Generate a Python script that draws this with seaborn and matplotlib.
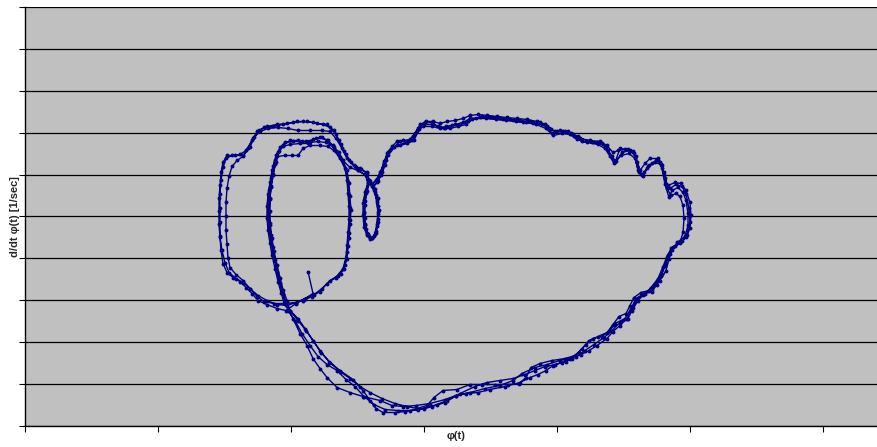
import matplotlib
matplotlib.use("Agg")
import matplotlib.pyplot as plt
import seaborn as sns
import pandas as pd
import numpy as np

# phase trajectory (arbitrary units: phi, d/dt phi)
phi_start = [283, 288]
dphi_start = [-55, -77]

phi_outer1 = [280,271,262,252,242,233,225,218,211,204,200,197,195,194,194,194,195,196,198,202,210,218,225,229,234,242,252,262,272,282,292,302,309,314,319,324,330]
dphi_outer1 = [-82,-86,-89,-88,-84,-79,-72,-66,-62,-56,-46,-34,-21,-8,5,18,31,44,54,61,61,61,69,79,86,90,92,93,95,95,93,92,86,76,65,56,50]

phi_small1 = [335,342,344,341,339,339,340,342,346,350,352,353,352,349,346,351,355,359,362,367]
dphi_small1 = [48,44,36,26,16,4,-8,-17,-22,-18,-8,4,16,26,32,36,44,53,63,70]

phi_big1 = [372,378,385,390,395,401,408,415,422,430,438,445,453,462,472,482,492,502,512,520,
            526,532,540,548,555,565,575,582,588,593,600,608,612,615,620,625,633,637,640,643,
            650,656,661,665,666,665,661,655,648,643,640,636,631,624,616,609,605,601,594,588,
            582,573,564,557,550,540,527,515,506,501,494,483,470,457,445,432,418,409,402,392,
            382,370,357,345,335,325,315,305,296,288,280,273,265]
dphi_big1 = [75,76,77,83,92,95,95,93,95,96,98,101,102,101,100,99,98,97,95,92,
             87,85,85,82,78,76,75,71,64,66,67,65,54,46,53,58,58,51,38,31,
             34,33,26,14,1,-12,-21,-27,-31,-39,-49,-59,-67,-74,-76,-81,-89,-97,-100,-108,
             -116,-120,-124,-132,-139,-142,-144,-147,-151,-161,-167,-168,-168,-168,-168,-173,-174,-181,-189,-192,
             -190,-187,-182,-176,-170,-162,-155,-146,-136,-124,-112,-102,-94]

phi_left1 = [260,257,254,251,248,246,244,243,243,244,246,248,251,255,260,268,277,285,293,301,308,313,317]
dphi_left1 = [-84,-74,-62,-49,-36,-24,-12,1,13,26,38,50,61,69,74,75,75,74,75,74,70,64,56]

phi_right1 = [321,323,324,325,325,324,323,322,319,313,305,297,289,280]
dphi_right1 = [46,34,21,8,-4,-17,-30,-42,-52,-59,-64,-72,-78,-82]

phi_outer2 = [271,261,252,242,233,227,221,215,208,202,198,196,195,195,195,195,196,198,201,207,215,221,227,232,239,248,258,268,278,288,298,305,311,316,321,326,331]
dphi_outer2 = [-87,-94,-92,-88,-84,-77,-71,-65,-61,-56,-47,-34,-20,-6,8,22,36,49,58,61,62,66,76,85,89,90,92,94,95,94,92,89,82,72,62,54,49]

phi_small2 = [333,340,343,340,338,338,339,342,345,349,352,353,352,350,347,352,356,360,363,369]
dphi_small2 = [46,42,34,24,13,1,-11,-19,-23,-20,-10,2,14,24,30,34,41,51,61,69]

phi_big2 = [375,383,388,393,399,408,415,421,430,438,445,455,465,475,485,495,505,515,522,527,
            535,543,549,557,567,577,583,590,595,603,609,613,617,622,627,633,637,640,644,647,
            653,658,661,663,663,660,652,647,644,641,635,627,619,611,606,600,590,585,577,568,
            561,554,545,535,522,510,497,488,475,460,445,431,420,405,391,378,367,355,338,325,
            312,302,295,288,282,275,268]
dphi_big2 = [75,75,80,88,92,92,89,90,92,94,98,99,99,98,97,96,95,94,90,83,
             86,85,80,75,74,73,66,54,68,67,63,46,41,48,53,56,48,32,19,26,
             29,24,16,3,-9,-20,-26,-34,-42,-54,-64,-73,-77,-82,-92,-102,-107,-114,-120,-122,
             -128,-136,-142,-144,-148,-151,-157,-164,-169,-172,-176,-179,-183,-187,-189,-190,-189,-184,-180,-176,
             -171,-161,-152,-142,-129,-117,-102]

phi_left2 = [259,256,253,250,247,245,243,242,242,243,245,247,250,253,258,265,275,283,291,297,303,309,315]
dphi_left2 = [-86,-76,-65,-52,-39,-27,-14,-2,10,22,34,46,56,64,70,72,73,73,78,79,76,69,59]

phi_small3 = [325,333,341,343,341,340,340,341,344,347,351,353,353,351,348,353,357,361,365,372]
dphi_small3 = [49,46,41,33,23,11,-2,-13,-20,-22,-15,-3,10,21,29,35,44,56,66,71]

phi_big3 = [381,387,392,398,407,415,420,427,435,443,451,461,471,481,491,501,511,521,528,537,
            545,552,562,573,580,585,589,596,604,610,614,618,623,630,636,639,642,646,651,655,
            658,659,658,655,646,642,638,633,626,620,613,607,603,595,587,579,569,560,551,541,
            530,520,510,500,488,475,462,450,435,420,407,393,380,370,358,351,345,338,328,315,
            304,295,288,281,273,265]
dphi_big3 = [74,76,85,90,90,88,88,91,92,95,98,98,97,96,95,94,92,88,81,83,
             82,77,74,72,68,60,53,61,63,58,44,40,50,54,52,41,28,21,23,20,
             11,-2,-16,-26,-32,-40,-50,-62,-71,-77,-84,-94,-102,-106,-114,-121,-128,-134,-140,-145,
             -148,-150,-154,-158,-162,-164,-166,-170,-177,-186,-190,-193,-195,-196,-196,-192,-184,-174,-163,-154,
             -145,-134,-124,-114,-104,-94]

phi_left3 = [261,258,255,252,250,248,246,245,245,245,246,248,250,252,260,267,273,278,285,295,303,309,315]
dphi_left3 = [-87,-77,-66,-55,-43,-31,-19,-7,5,17,29,41,52,60,61,61,61,68,71,71,70,66,58]

phi_right2 = [320,322,323,324,324,323,322,321,318,311,302,295,287,278]
dphi_right2 = [48,36,23,10,-3,-16,-29,-41,-52,-61,-67,-75,-80,-84]

phi_outer3 = [271,260,249,239,232,225,218,211,205,203,202,201,201,201,202,204,207,212,218,223,228,235,243,253,263,273,285,297,305,311,317,322,329]
dphi_outer3 = [-86,-87,-87,-85,-80,-72,-64,-58,-51,-41,-28,-14,0,14,28,40,50,56,60,68,78,85,88,89,88,86,86,86,85,78,68,58,51]

phi_small4 = [336,342,345,342,340,339,340,343,347,351,353,354,353,350,347,352,356,359,363,368]
dphi_small4 = [47,43,35,25,15,3,-9,-18,-22,-17,-6,6,18,27,32,37,45,55,64,69]

phi_big4 = [375,382,389,394,400,407,413,419,425,433,441,447,457,467,478,488,498,508,517,524,
            530,538,546,553,563,572,581,587,591,597,605,611,616,619,624,631,635,639,642,645,
            651,657,661,664,665,662,657,650,645,641,637,632,627,618,611,608,602,595,588,582,
            572,564,556,547,537,528,521,513,505,495,480,465,453,441,431,422,412,399,385,373,
            360,349,339,330,321,312,302,293,285,277,270,263]
dphi_big4 = [71,73,76,87,94,94,90,88,88,90,92,97,100,99,97,96,94,93,92,88,
             85,85,83,80,75,74,70,60,55,64,66,60,42,44,51,56,54,44,30,28,
             32,30,22,8,-6,-19,-25,-30,-38,-46,-57,-68,-75,-78,-84,-91,-102,-109,-115,-122,
             -129,-134,-138,-142,-146,-149,-154,-158,-161,-166,-170,-173,-176,-177,-179,-184,-188,-192,-194,-194,
             -193,-188,-180,-170,-163,-154,-148,-140,-129,-117,-104,-94]

phi_left4 = [262,258,255,252,249,247,245,244,245,246,248,251,254,258,265,273,281,288,295,302,308,314,318]
dphi_left4 = [-84,-73,-61,-48,-35,-22,-9,4,18,30,42,54,65,71,76,76,75,77,79,76,71,64,56]

phi_right3 = [322,324,325,326,325,324,322,320,316]
dphi_right3 = [46,33,20,6,-8,-22,-36,-48,-57]

x_label = "φ(t)"
y_label = "d/dt φ(t) [1/sec]"

segments = [
    (phi_start, dphi_start), (phi_outer1, dphi_outer1), (phi_small1, dphi_small1),
    (phi_big1, dphi_big1), (phi_left1, dphi_left1), (phi_right1, dphi_right1),
    (phi_outer2, dphi_outer2), (phi_small2, dphi_small2), (phi_big2, dphi_big2),
    (phi_left2, dphi_left2), (phi_small3, dphi_small3), (phi_big3, dphi_big3),
    (phi_left3, dphi_left3), (phi_right2, dphi_right2), (phi_outer3, dphi_outer3),
    (phi_small4, dphi_small4), (phi_big4, dphi_big4), (phi_left4, dphi_left4),
    (phi_right3, dphi_right3),
]
phi_all, dphi_all = [], []
for px_, py_ in segments:
    assert len(px_) == len(py_)
    phi_all += px_
    dphi_all += py_
df = pd.DataFrame({"phi": phi_all, "dphi": dphi_all, "order": range(len(phi_all))})

sns.set_style("white", {"axes.facecolor": "#C0C0C0"})
plt.rcParams["font.family"] = ["Liberation Sans", "DejaVu Sans"]

fig = plt.figure(figsize=(8.77, 4.47), dpi=100)
ax = fig.add_axes([25/877, 21/447, 852/877, 419/447])
ax.set_facecolor("#C0C0C0")

sns.lineplot(data=df, x="phi", y="dphi", sort=False, estimator=None, ax=ax,
             color="#000080", linewidth=1.0, marker="o", markersize=2.8,
             markeredgewidth=0, markerfacecolor="#000080")

ax.set_xlim(0, 852)
ax.set_ylim(-209.5, 209.5)
yt = [k * 41.9 for k in range(-5, 6)]
ax.set_yticks(yt)
ax.set_yticklabels([""] * len(yt))
xt = [k * 133 for k in range(0, 7)]
ax.set_xticks(xt)
ax.set_xticklabels([""] * len(xt))
ax.grid(axis="y", color="#000000", linewidth=0.9)
ax.grid(axis="x", visible=False)
ax.tick_params(axis="both", direction="out", length=4, width=0.8, color="black",
               bottom=True, left=True)
for s in ["top", "right"]:
    ax.spines[s].set_visible(False)
for s in ["left", "bottom"]:
    ax.spines[s].set_color("black")
    ax.spines[s].set_linewidth(1.0)

ax.set_xlabel(x_label, fontsize=8, fontweight="bold")
ax.set_ylabel(y_label, fontsize=8, fontweight="bold")
ax.xaxis.set_label_coords(0.506, -0.011)
ax.yaxis.set_label_coords(-0.0055, 0.5)

fig.savefig("out.png", dpi=100, facecolor="white")
